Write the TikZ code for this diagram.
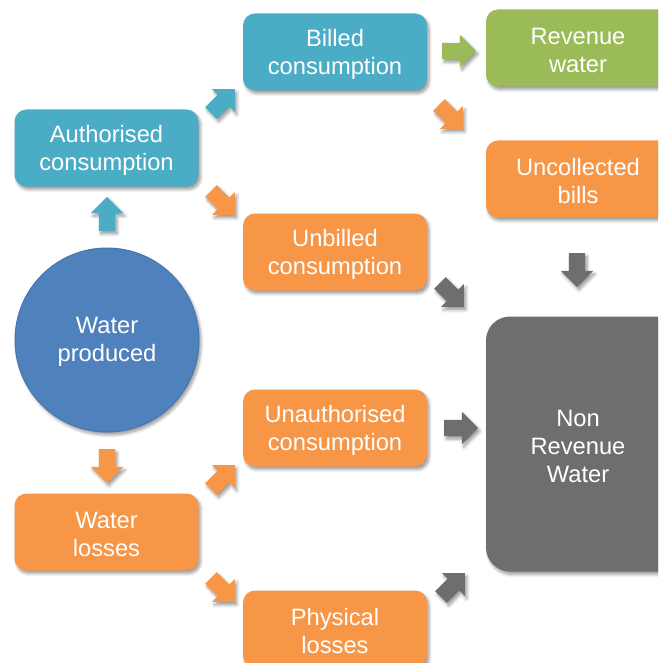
\documentclass[tikz,border=0pt]{standalone}
\usepackage{fontspec}
\setmainfont{Liberation Sans}
\usetikzlibrary{shadows.blur,shapes.arrows}
\definecolor{cteal}{HTML}{4BACC6}
\definecolor{cgreen}{HTML}{9BBB59}
\definecolor{corange}{HTML}{F79646}
\definecolor{cblue}{HTML}{4F81BD}
\definecolor{cblueb}{HTML}{4576B0}
\definecolor{cgray}{HTML}{6E6E6E}
\tikzset{
  shd/.style={blur shadow={shadow xshift=2pt, shadow yshift=-3pt, shadow blur radius=3pt, shadow blur steps=6, shadow opacity=40}},
  boxtext/.style={align=center, text=white, inner sep=0pt, yshift=-2pt, font=\fontsize{23.7}{28}\selectfont},
  box/.style={shd, rectangle, rounded corners=12pt, minimum width=184pt, minimum height=77pt, inner sep=0pt},
  barrow/.style={shd, single arrow, draw=none, inner sep=8pt, minimum height=34pt, minimum width=32pt,
    single arrow head extend=8pt, single arrow tip angle=90},
}
\begin{document}
\begin{tikzpicture}[x=1pt,y=-1pt]
\useasboundingbox (0,0) rectangle (658,663);
\clip (0,0) rectangle (658,663);
% boxes
\node[box, fill=cteal, label={[boxtext]center:Billed\\consumption}] (billed) at (335,52) {};
\node[box, fill=cgreen, minimum width=224pt,
  label={[boxtext, xshift=-20pt]center:Revenue\\water}] (revenue) at (598,48) {};
\node[box, fill=cteal, label={[boxtext]center:Authorised\\consumption}] (auth) at (106.5,148) {};
\node[box, fill=corange, minimum width=224pt,
  label={[boxtext, xshift=-20pt]center:Uncollected\\bills}] (uncoll) at (598,179) {};
\node[box, fill=corange, label={[boxtext]center:Unbilled\\consumption}] (unbilled) at (335,252) {};
\node[shd, circle, fill=cblue, draw=cblueb, line width=1pt, minimum size=184pt, inner sep=0pt,
  label={[boxtext]center:Water\\produced}] (prod) at (107,340) {};
\node[box, fill=cgray, rounded corners=24pt, minimum width=224pt, minimum height=255pt,
  label={[boxtext, xshift=-20pt]center:Non\\Revenue\\Water}] (nrw) at (598,444) {};
\node[box, fill=corange, label={[boxtext]center:Unauthorised\\consumption}] (unauth) at (335,428) {};
\node[box, fill=corange, label={[boxtext]center:Water\\losses}] (wloss) at (106.5,532) {};
\node[box, fill=corange, label={[boxtext]center:Physical\\losses}] (phys) at (335,629) {};
% block arrows
\node[barrow, fill=cteal, rotate=90] (a1) at (107,218) {};
\node[barrow, fill=cteal, rotate=45] (a2) at (220,104) {};
\node[barrow, fill=corange, rotate=-45] (a3) at (220,200) {};
\node[barrow, fill=cgreen] (a4) at (455,51) {};
\node[barrow, fill=corange, rotate=-45] (a5) at (448,114) {};
\node[barrow, fill=cgray, rotate=-45] (a6) at (449,292) {};
\node[barrow, fill=cgray, rotate=-90] (a7) at (577,266) {};
\node[barrow, fill=cgray] (a8) at (457,428) {};
\node[barrow, fill=cgray, rotate=45] (a9) at (450,588) {};
\node[barrow, fill=corange, rotate=-90] (a10) at (107,462) {};
\node[barrow, fill=corange, rotate=45] (a11) at (220,480) {};
\node[barrow, fill=corange, rotate=-45] (a12) at (220,587) {};
\end{tikzpicture}
\end{document}
